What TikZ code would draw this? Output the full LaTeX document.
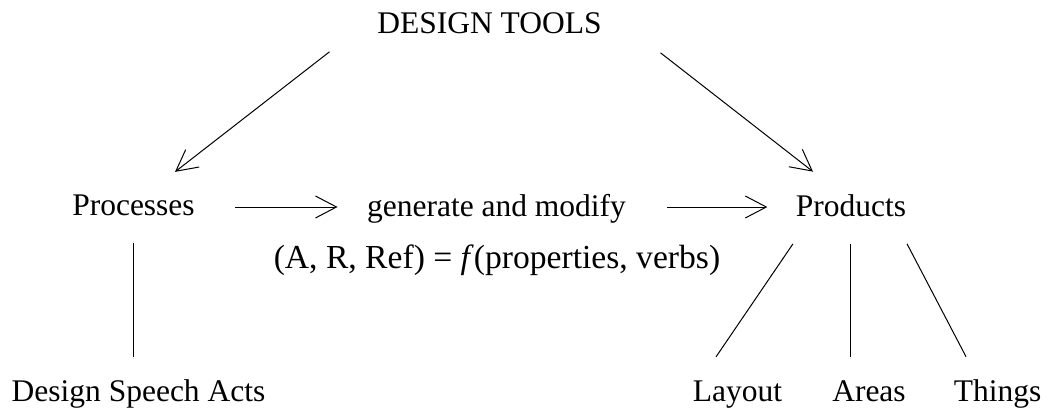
\documentclass[tikz,border=0pt]{standalone}
\usepackage{fontspec}
\setmainfont{Liberation Serif}
\usetikzlibrary{arrows.meta}

\begin{document}
\begin{tikzpicture}[x=0.5pt,y=-0.5pt,line width=0.5pt,
    >={Straight Barb[length=10.5pt,width=11pt]},
    every node/.style={inner sep=0pt,anchor=base,font=\fontsize{15.75}{19}\selectfont}]
    \useasboundingbox (0,0) rectangle (1051,412);
    \node (a) at (489.5,33) {DESIGN TOOLS};
    \node (b) at (133.5,215) {Processes};
    \node (c) at (496.5,216) {generate and modify};
    \node (d) at (851,216) {Products};
    \node[font=\fontsize{16.8}{20}\selectfont] (e) at (497,268) {(A, R, Ref) = \textit{f}(properties, verbs)};
    \node (f) at (138.5,401) {Design Speech Acts};
    \node (g) at (737.5,401) {Layout};
    \node (h) at (869,401) {Areas};
    \node (i) at (997.5,401) {Things};
    \draw [->] ([shift={(-160,18)}]a.south) to ([shift={(41.5,-22)}]b.north);
    \draw [->] ([shift={(171,19)}]a.south) to ([shift={(-38,-22)}]d.north);
    \draw [->] ([shift={(40,-8)}]b.base east) to ([shift={(-29,-9)}]c.base west);
    \draw [->] ([shift={(41,-9)}]c.base east) to ([shift={(-28,-9)}]d.base west);
    \draw ([shift={(0,27)}]b.south) to ([shift={(-5,-22)}]f.north);
    \draw ([shift={(-58,27)}]d.south) to ([shift={(-21.5,-23)}]g.north);
    \draw ([shift={(-1,27)}]d.south) to ([shift={(-19,-23)}]h.north);
    \draw ([shift={(56,27)}]d.south) to ([shift={(-31.5,-22)}]i.north);
  \end{tikzpicture}
\end{document}
